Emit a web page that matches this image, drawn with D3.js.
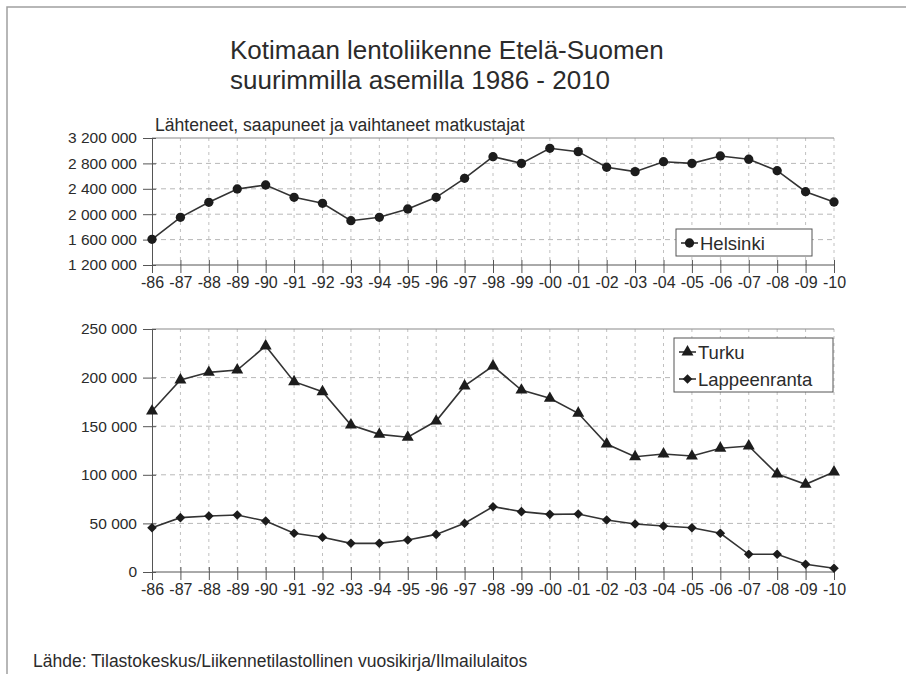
<!DOCTYPE html>
<html>
<head>
<meta charset="utf-8">
<script src="https://cdn.jsdelivr.net/npm/d3@7/dist/d3.min.js"></script>
<style>
  html, body { margin: 0; padding: 0; background: #fff; }
  svg { display: block; font-family: "Liberation Sans", Arial, sans-serif; }
</style>
</head>
<body>
<svg id="chart" width="906" height="674"></svg>
<script>
// Years shown on the category axis
const years = ["-86","-87","-88","-89","-90","-91","-92","-93","-94","-95","-96","-97","-98","-99","-00","-01","-02","-03","-04","-05","-06","-07","-08","-09","-10"];

// Departing, arriving and transfer passengers per airport
const helsinki = [1605000,1951000,2187000,2397000,2460000,2266000,2172000,1898000,1951000,2082000,2266000,2565000,2906000,2801000,3038000,2985000,2739000,2670000,2827000,2801000,2917000,2865000,2685000,2354000,2192000];
const turku = [165600,197500,205400,207800,232500,195800,185500,151200,141600,138600,155300,191400,211900,187200,178700,163300,131700,118600,121400,119300,127300,129600,100800,90200,102900];
const lappeenranta = [45600,55900,57600,58600,52500,39800,35700,29500,29500,32900,38700,50100,67200,62100,59300,59700,53500,49400,47300,45600,39800,18200,18200,7900,3800];

// Value axis ticks
const topTicks = [1200000,1600000,2000000,2400000,2800000,3200000];
const bottomTicks = [0,50000,100000,150000,200000,250000];

const titleLines = ["Kotimaan lentoliikenne Etelä-Suomen", "suurimmilla asemilla 1986 - 2010"];
const unitLabel = "Lähteneet, saapuneet ja vaihtaneet matkustajat";
const sourceLabel = "Lähde: Tilastokeskus/Liikennetilastollinen vuosikirja/Ilmailulaitos";

const svg = d3.select("#chart");
const ink = "#2b2b2b";
const fmt = v => d3.format(",")(v).replace(/,/g, " ");

// Outer frame (top and left edges)
svg.append("path")
  .attr("d", "M7,674 V7 H906")
  .attr("fill", "none").attr("stroke", "#a0a0a0").attr("stroke-width", 1.5);

// Title
svg.append("g").selectAll("text").data(titleLines).join("text")
  .attr("x", 230).attr("y", (d, i) => 59 + i * 30)
  .attr("font-size", 26).attr("fill", ink)
  .text(d => d);

svg.append("text").attr("x", 155).attr("y", 131)
  .attr("font-size", 17.6).attr("fill", ink).text(unitLabel);

svg.append("text").attr("x", 33).attr("y", 667)
  .attr("font-size", 17.5).attr("fill", ink).text(sourceLabel);

const x = d3.scalePoint().domain(years).range([152, 834]).padding(0);

function panel(yScale, ticks, series, legend) {
  const [y0, y1] = yScale.range();
  const g = svg.append("g");

  // vertical gridlines
  g.append("g").selectAll("line").data(years.slice(1)).join("line")
    .attr("x1", d => x(d)).attr("x2", d => x(d))
    .attr("y1", y1).attr("y2", y0)
    .attr("stroke", "#c0c0c0").attr("stroke-width", 1)
    .attr("stroke-dasharray", "3,4");

  // horizontal gridlines
  g.append("g").selectAll("line").data(ticks.slice(1, -1)).join("line")
    .attr("x1", 152).attr("x2", 834)
    .attr("y1", d => yScale(d)).attr("y2", d => yScale(d))
    .attr("stroke", "#b8b8b8").attr("stroke-width", 1)
    .attr("stroke-dasharray", "5,4");

  // top border of the plot area
  g.append("line").attr("x1", 152).attr("x2", 834)
    .attr("y1", y1).attr("y2", y1)
    .attr("stroke", "#8a8a8a").attr("stroke-width", 1.2);

  // value axis
  const ya = d3.axisLeft(yScale).tickValues(ticks).tickFormat(fmt)
    .tickSizeInner(9).tickSizeOuter(0).tickPadding(6);
  const yg = g.append("g").attr("transform", "translate(152,0)").call(ya);
  yg.select(".domain").attr("stroke", "#555");
  yg.selectAll(".tick line").attr("stroke", "#555").attr("x2", -9).attr("x1", 4);
  yg.selectAll(".tick text").attr("font-size", 15.5).attr("fill", ink)
    .attr("font-family", "Liberation Sans, Arial, sans-serif").attr("x", -15);

  // category axis
  const xa = d3.axisBottom(x).tickSizeInner(8).tickSizeOuter(0).tickPadding(4);
  const xg = g.append("g").attr("transform", `translate(0,${y0})`).call(xa);
  xg.select(".domain").attr("stroke", "#555").attr("d", `M152,0H834`);
  xg.selectAll(".tick line").attr("stroke", "#555").attr("y1", -5).attr("y2", 8);
  xg.selectAll(".tick text").attr("font-size", 16).attr("fill", ink)
    .attr("font-family", "Liberation Sans, Arial, sans-serif").attr("y", 12);

  // series
  series.forEach(s => {
    const line = d3.line().x((d, i) => x(years[i])).y(d => yScale(d));
    g.append("path").datum(s.values).attr("d", line)
      .attr("fill", "none").attr("stroke", "#333").attr("stroke-width", 1.6);
    g.append("g").selectAll("path").data(s.values).join("path")
      .attr("transform", (d, i) => `translate(${x(years[i])},${yScale(d)}) rotate(${s.rotate || 0})`)
      .attr("d", s.symbol).attr("fill", "#1c1c1c");
  });

  // legend
  const lg = g.append("g");
  lg.append("rect").attr("x", legend.x).attr("y", legend.y)
    .attr("width", legend.w).attr("height", legend.h)
    .attr("fill", "#fff").attr("stroke", "#555").attr("stroke-width", 1);
  series.forEach((s, i) => {
    const cy = legend.y + legend.h / (series.length * 2) * (2 * i + 1) + 0.5;
    lg.append("line").attr("x1", legend.x + 5).attr("x2", legend.x + 22)
      .attr("y1", cy).attr("y2", cy).attr("stroke", "#333").attr("stroke-width", 1.6);
    lg.append("path").attr("transform", `translate(${legend.x + 13.5},${cy}) rotate(${s.rotate || 0})`)
      .attr("d", s.symbol).attr("fill", "#1c1c1c");
    lg.append("text").attr("x", legend.x + 24).attr("y", cy + 6.5)
      .attr("font-size", 18.5).attr("fill", ink).text(s.name);
  });
}

const circle = d3.symbol(d3.symbolCircle, 68)();
const triangle = d3.symbol(d3.symbolTriangle, 62)();
const diamond = d3.symbol(d3.symbolSquare, 46)();

const yTop = d3.scaleLinear().domain([1200000, 3200000]).range([265, 138]);
panel(yTop, topTicks,
  [{ name: "Helsinki", values: helsinki, symbol: circle }],
  { x: 676, y: 229, w: 136, h: 27 });

const yBottom = d3.scaleLinear().domain([0, 250000]).range([572, 329]);
panel(yBottom, bottomTicks,
  [{ name: "Turku", values: turku, symbol: triangle },
   { name: "Lappeenranta", values: lappeenranta, symbol: diamond, rotate: 45 }],
  { x: 674, y: 338, w: 159, h: 54 });
</script>
</body>
</html>
